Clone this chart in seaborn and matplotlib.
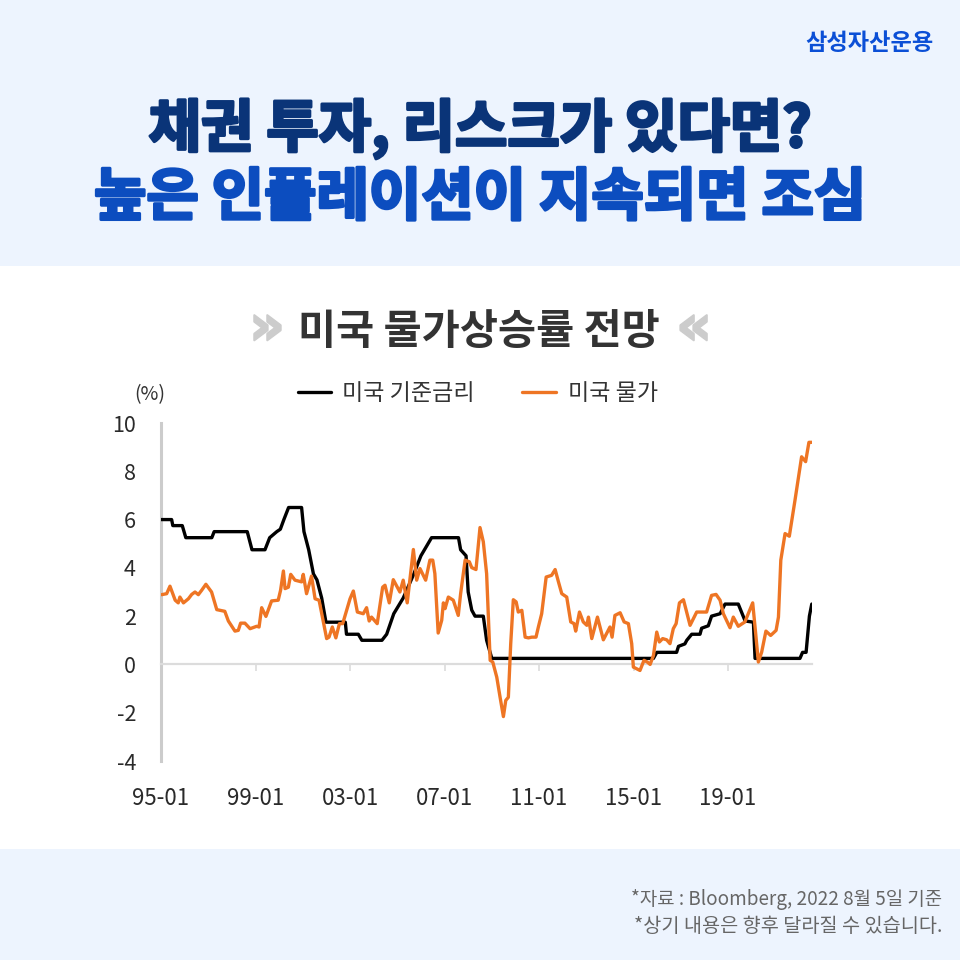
import pandas as pd
import matplotlib
matplotlib.use("Agg")
import matplotlib.pyplot as plt
import matplotlib.patheffects as pe
from matplotlib.patches import Rectangle
import seaborn as sns

sns.set_theme(style="white")
plt.rcParams['font.family'] = ['Noto Sans CJK KR', 'DejaVu Sans']
plt.rcParams['axes.unicode_minus'] = False

# 미국 기준금리
rate_x = [1995.0, 1995.45, 1995.5, 1995.9, 1996.05, 1997.15, 1997.25, 1998.65, 1998.85, 1999.4,
          1999.6, 1999.9, 2000.05, 2000.2, 2000.4, 2000.95, 2001.05, 2001.25, 2001.45, 2001.6,
          2001.8, 2001.98, 2002.8, 2002.85, 2003.35, 2003.5, 2004.35, 2004.55, 2004.85, 2005.25,
          2005.7, 2006.0, 2006.45, 2007.59, 2007.68, 2007.91, 2008.0, 2008.15, 2008.29, 2008.64,
          2008.78, 2009.0, 2015.84, 2015.98, 2016.82, 2016.9, 2017.17, 2017.25, 2017.46, 2017.81,
          2017.88, 2018.16, 2018.3, 2018.66, 2018.87, 2019.43, 2019.72, 2020.07, 2020.14, 2022.04,
          2022.15, 2022.3, 2022.44, 2022.54]
rate_y = [6.0, 6.0, 5.75, 5.75, 5.25, 5.25, 5.5, 5.5, 4.75, 4.75,
          5.25, 5.5, 5.6, 6.0, 6.5, 6.5, 5.5, 4.75, 3.75, 3.5,
          2.75, 1.75, 1.75, 1.25, 1.25, 1.0, 1.0, 1.25, 2.1, 2.75,
          3.75, 4.5, 5.25, 5.25, 4.75, 4.5, 3.0, 2.25, 2.0, 2.0,
          1.0, 0.25, 0.25, 0.5, 0.5, 0.75, 0.85, 1.0, 1.25, 1.25,
          1.5, 1.6, 2.0, 2.1, 2.5, 2.5, 1.8, 1.75, 0.25, 0.25,
          0.5, 0.5, 2.0, 2.5]

# 미국 물가
cpi_x = [1995.03, 1995.24, 1995.38, 1995.6, 1995.73, 1995.8, 1995.95, 1996.16, 1996.3, 1996.44,
         1996.58, 1996.72, 1996.9, 1997.14, 1997.36, 1997.5, 1997.7, 1997.85, 1998.13, 1998.27,
         1998.37, 1998.55, 1998.77, 1999.05, 1999.15, 1999.26, 1999.44, 1999.68, 1999.96, 2000.06,
         2000.18, 2000.25, 2000.39, 2000.49, 2000.67, 2000.95, 2001.02, 2001.16, 2001.37, 2001.52,
         2001.69, 2001.83, 2002.01, 2002.11, 2002.25, 2002.4, 2002.55, 2002.69, 2003.0, 2003.14,
         2003.31, 2003.56, 2003.7, 2003.81, 2003.91, 2004.15, 2004.38, 2004.48, 2004.66, 2004.83,
         2005.11, 2005.25, 2005.42, 2005.68, 2005.82, 2005.96, 2006.2, 2006.38, 2006.5, 2006.59,
         2006.73, 2006.88, 2006.95, 2007.02, 2007.16, 2007.37, 2007.58, 2007.68, 2007.87, 2008.05,
         2008.15, 2008.33, 2008.5, 2008.64, 2008.78, 2008.93, 2009.04, 2009.21, 2009.35, 2009.49,
         2009.59, 2009.7, 2009.8, 2009.91, 2010.03, 2010.12, 2010.27, 2010.41, 2010.55, 2010.69,
         2010.87, 2010.97, 2011.11, 2011.3, 2011.53, 2011.68, 2011.82, 2011.96, 2012.17, 2012.34,
         2012.48, 2012.55, 2012.71, 2012.87, 2013.02, 2013.09, 2013.23, 2013.47, 2013.72, 2014.0,
         2014.09, 2014.21, 2014.43, 2014.6, 2014.78, 2014.92, 2014.99, 2015.27, 2015.44, 2015.58,
         2015.7, 2015.84, 2015.98, 2016.09, 2016.23, 2016.4, 2016.54, 2016.68, 2016.8, 2016.94,
         2017.11, 2017.39, 2017.67, 2018.09, 2018.3, 2018.49, 2018.66, 2018.8, 2019.08, 2019.22,
         2019.43, 2019.71, 2020.04, 2020.14, 2020.28, 2020.42, 2020.6, 2020.8, 2021.03, 2021.13,
         2021.23, 2021.41, 2021.59, 2021.83, 2022.11, 2022.28, 2022.42, 2022.54]
cpi_y = [2.89, 2.93, 3.24, 2.66, 2.55, 2.79, 2.55, 2.72, 2.9, 3.0,
         2.89, 3.07, 3.32, 3.0, 2.27, 2.24, 2.2, 1.8, 1.38, 1.41,
         1.71, 1.71, 1.48, 1.58, 1.55, 2.35, 1.99, 2.63, 2.66, 3.07,
         3.87, 3.14, 3.2, 3.73, 3.49, 3.42, 3.73, 2.93, 3.66, 2.72,
         2.66, 1.96, 1.07, 1.13, 1.55, 1.1, 1.69, 1.69, 2.72, 3.04,
         2.17, 2.1, 2.35, 1.8, 1.96, 1.69, 3.2, 3.28, 2.55, 3.51,
         3.0, 3.49, 2.55, 4.76, 3.49, 3.97, 3.49, 4.32, 4.32, 3.76,
         1.3, 1.83, 2.55, 2.31, 2.79, 2.66, 2.03, 2.93, 4.32, 4.25,
         4.01, 3.93, 5.67, 5.08, 3.76, 0.17, 0.1, -0.53, -1.36, -2.16,
         -1.49, -1.36, 0.86, 2.68, 2.59, 2.17, 2.24, 1.13, 1.1, 1.13,
         1.13, 1.55, 2.1, 3.62, 3.69, 3.93, 3.42, 2.93, 2.79, 1.76,
         1.69, 1.38, 2.17, 1.76, 1.62, 1.96, 1.07, 1.96, 1.02, 1.55,
         1.13, 2.03, 2.14, 1.76, 1.69, 0.86, -0.11, -0.25, 0.17, 0.1,
         0.0, 0.37, 1.34, 0.93, 1.07, 1.02, 0.86, 1.48, 1.69, 2.55,
         2.68, 1.62, 2.17, 2.17, 2.86, 2.9, 2.66, 2.1, 1.52, 1.96,
         1.58, 1.76, 2.55, 1.55, 0.1, 0.51, 1.38, 1.2, 1.41, 1.96,
         4.32, 5.42, 5.31, 6.8, 8.6, 8.4, 9.2, 9.2]

x_ticks = [1995, 1999, 2003, 2007, 2011, 2015, 2019]
x_labels = ['95-01', '99-01', '03-01', '07-01', '11-01', '15-01', '19-01']
y_ticks = [-4, -2, 0, 2, 4, 6, 8, 10]

df = pd.concat([
    pd.DataFrame({'x': rate_x, 'y': rate_y, '구분': '미국 기준금리'}),
    pd.DataFrame({'x': cpi_x, 'y': cpi_y, '구분': '미국 물가'}),
])

fig = plt.figure(figsize=(9.6, 9.6), dpi=100, facecolor='white')

# 상단/하단 배경
fig.add_artist(Rectangle((0, 1 - 266 / 960), 1, 266 / 960, transform=fig.transFigure, color='#edf4fe', lw=0))
fig.add_artist(Rectangle((0, 0), 1, 111 / 960, transform=fig.transFigure, color='#edf4fe', lw=0))

ax = fig.add_axes([161 / 960, 1 - 761 / 960, 651 / 960, 338 / 960])
sns.lineplot(data=df, x='x', y='y', hue='구분', palette=['#000000', '#ee7524'],
             estimator=None, sort=False, linewidth=2.4, ax=ax, legend=False, zorder=3)
ax.set_xlim(1995, 2022.55)
ax.set_ylim(-4, 10)
ax.set_xlabel('')
ax.set_ylabel('')
ax.patch.set_alpha(0)
ax.set_xticks(x_ticks)
ax.set_xticklabels(x_labels)
ax.set_yticks(y_ticks)
sns.despine(ax=ax)
ax.spines['bottom'].set_position(('data', 0))
ax.spines['bottom'].set_color('#dcdcdc')
ax.spines['bottom'].set_linewidth(1.6)
ax.spines['left'].set_color('#cccccc')
ax.spines['left'].set_linewidth(2.2)
ax.tick_params(axis='x', bottom=True, length=5, width=1.2, color='#dcdcdc', pad=83.5, labelsize=16, labelcolor='#2a2a2a')
ax.tick_params(axis='y', left=False, pad=12, labelsize=15.5, labelcolor='#2a2a2a')

# 범례
fig.add_artist(plt.Line2D([298 / 960, 331 / 960], [1 - 392 / 960] * 2, color='#000000', lw=2.4))
fig.add_artist(plt.Line2D([522 / 960, 556 / 960], [1 - 392 / 960] * 2, color='#ee7524', lw=2.4))
fig.text(342 / 960, 1 - 394 / 960, '미국 기준금리', fontsize=16.6, color='#333333', va='center', ha='left')
fig.text(568 / 960, 1 - 394 / 960, '미국 물가', fontsize=16.6, color='#333333', va='center', ha='left')
fig.text(150 / 960, 1 - 395 / 960, '(%)', fontsize=14, color='#333333', va='center', ha='center')

# 제목
fig.text(934 / 960, 1 - 44 / 960, '삼성자산운용', fontsize=16.7, fontweight='bold', color='#0b4fd6', va='center', ha='right')
for txt, yy, col in [('채권 투자, 리스크가 있다면?', 129, '#0a3478'), ('높은 인플레이션이 지속되면 조심', 198, '#0c4dbf')]:
    t = fig.text(480 / 960, 1 - yy / 960, txt, fontsize=41, fontweight='black', color=col, va='center', ha='center')
    t.set_path_effects([pe.withStroke(linewidth=2.2, foreground=col)])

fig.text(479 / 960, 1 - 332 / 960, '미국 물가상승률 전망', fontsize=29.8, fontweight='bold', color='#333333', va='center', ha='center')
for txt, xx in [('»', 267), ('«', 694)]:
    t = fig.text(xx / 960, 1 - 329 / 960, txt, fontsize=40, fontweight='bold', color='#cccccc', va='center', ha='center', family='DejaVu Sans')
    t.set_path_effects([pe.withStroke(linewidth=1.5, foreground='#cccccc')])

# 출처
fig.text(942 / 960, 1 - 899 / 960, '*자료 : Bloomberg, 2022 8월 5일 기준', fontsize=13.6, fontweight='light', color='#666666', va='center', ha='right')
fig.text(942 / 960, 1 - 926 / 960, '*상기 내용은 향후 달라질 수 있습니다.', fontsize=14.2, fontweight='light', color='#666666', va='center', ha='right')

fig.savefig('out.png', dpi=100)
